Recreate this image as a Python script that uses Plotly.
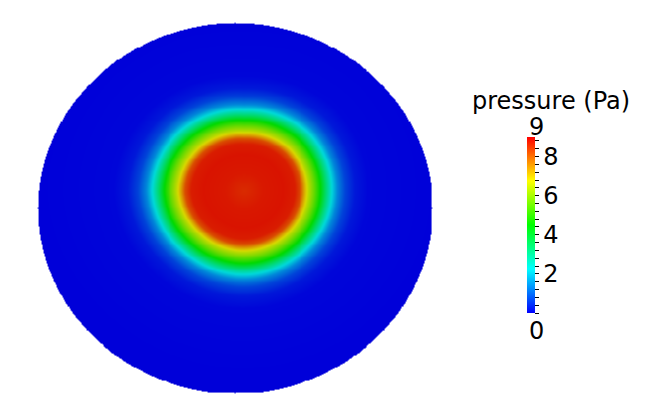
import numpy as np
import plotly.graph_objects as go

# ---------------- data ----------------
# radial pressure profile of the hot spot (normalised disk radius -> Pa)
profile_r = [0.00, 0.10, 0.20, 0.26, 0.29, 0.31, 0.33, 0.36, 0.39, 0.42, 0.45, 0.48, 0.52, 0.57, 0.64, 1.00]
profile_p = [8.55, 8.75, 8.80, 8.70, 8.20, 7.30, 6.50, 5.60, 4.60, 3.40, 2.30, 1.40, 0.70, 0.25, 0.05, 0.00]
# slight angular irregularity of the spot (direction in degrees -> radius factor)
angle_deg = [0, 45, 90, 135, 180, 225, 270, 315, 360]
angle_scale = [0.98, 1.00, 0.97, 1.02, 1.04, 1.00, 1.00, 0.98, 0.98]
# centre of the hot spot in normalised disk coordinates
spot_center = [0.046, 0.095]

p_min, p_max = 0, 9
tick_values = [0.0, 0.4, 0.8, 1.2, 1.6, 2.0, 2.4, 2.8, 3.2, 3.6, 4.0, 4.4, 4.8,
               5.2, 5.6, 6.0, 6.4, 6.8, 7.2, 7.6, 8.0, 8.4, 8.8]
tick_labels = {2.0: "2", 4.0: "4", 6.0: "6", 8.0: "8"}
colorbar_title = "pressure (Pa)"

# ---------------- field on the disk ----------------
n = 401
u = np.linspace(-1, 1, n)
v = np.linspace(-1, 1, n)
U, V = np.meshgrid(u, v)
dx = U - spot_center[0]
dy = V - spot_center[1]
r = np.hypot(dx, dy)
theta = np.degrees(np.arctan2(dy, dx)) % 360
scale = np.interp(theta, angle_deg, angle_scale)
P = np.interp(r / scale, profile_r, profile_p)
P[U**2 + V**2 > 1.0] = np.nan

rainbow = [[0.0, "rgb(0,0,255)"], [0.25, "rgb(0,255,255)"], [0.5, "rgb(0,255,0)"],
           [0.75, "rgb(255,255,0)"], [1.0, "rgb(255,0,0)"]]
shade = 0.85
def shaded(cs, f):
    out = []
    for s, c in cs:
        vals = [int(round(float(x) * f)) for x in c[4:-1].split(",")]
        out.append([s, "rgb(%d,%d,%d)" % tuple(vals)])
    return out

FONT = "DejaVu Sans"
FS = 24
W, H = 645, 414
OFF = 8  # page body margin: page pixel = figure pixel + OFF

fig = go.Figure()
fig.add_trace(go.Heatmap(
    x=u, y=v, z=P, zmin=p_min, zmax=p_max,
    colorscale=shaded(rainbow, shade), zsmooth="best",
    showscale=False, hoverinfo="skip",
))
fig.add_trace(go.Scatter(
    x=[0], y=[0], mode="markers", hoverinfo="skip", showlegend=False,
    marker=dict(size=0.1, opacity=0, color=[0], cmin=p_min, cmax=p_max,
                colorscale=rainbow, showscale=True,
                colorbar=dict(
                    thickness=8, thicknessmode="pixels",
                    len=176, lenmode="pixels",
                    x=(527 - OFF) / W, xanchor="left", y=1 - (225 - OFF) / H, yanchor="middle",
                    xpad=0, ypad=0, outlinewidth=0,
                    ticks="outside", ticklen=4, tickwidth=1, tickcolor="black",
                    tickvals=tick_values,
                    ticktext=[tick_labels.get(t, "") for t in tick_values],
                    tickfont=dict(family=FONT, size=FS, color="black"),
                )),
))

def page_annot(text, px, py, xanchor):
    fig.add_annotation(text=text, x=(px - OFF) / W, y=1 - (py - OFF) / H,
                       xref="paper", yref="paper", xanchor=xanchor, yanchor="middle",
                       showarrow=False, font=dict(family=FONT, size=FS, color="black"))

page_annot(colorbar_title, 551, 101, "center")
page_annot(str(p_max), 527, 127, "left")
page_annot(str(p_min), 527, 331, "left")

fig.update_xaxes(visible=False, range=[(OFF - 235) / 197, (W + OFF - 235) / 197], fixedrange=True)
fig.update_yaxes(visible=False, range=[(208 - H - OFF) / 185, (208 - OFF) / 185], fixedrange=True)
fig.update_layout(width=W, height=H, margin=dict(l=0, r=0, t=0, b=0),
                  paper_bgcolor="white", plot_bgcolor="white", showlegend=False)

fig.write_html("out.html")
